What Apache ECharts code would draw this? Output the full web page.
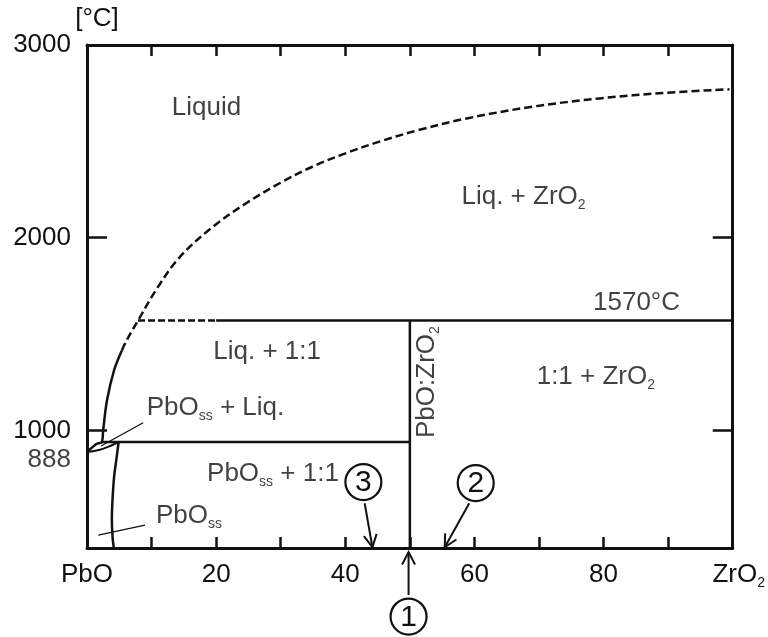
<!DOCTYPE html>
<html>
<head>
<meta charset="utf-8">
<script src="https://cdn.jsdelivr.net/npm/echarts@6/dist/echarts.min.js"></script>
<style>
  html, body { margin: 0; padding: 0; background: #fff; }
  #chart { width: 768px; height: 637px; }
</style>
</head>
<body>
<div id="chart"></div>
<script>
// PbO–ZrO2 phase diagram: composition (mol% ZrO2) against temperature (°C)

// axis ticks and labels
const xTickValues = [0, 20, 40, 60, 80, 100];
const xTickNames = ['PbO', '20', '40', '60', '80', 'ZrO2'];
const yTickValues = [1000, 2000];
const yLabelValues = [1000, 2000, 3000];
const yMin = 390;
const yMax = 3000;

// invariant temperatures and compound composition
const pboMeltingPoint = 888;
const peritecticT = 940;
const compoundMeltT = 1570;
const compoundX = 50;

// phase boundaries [mol% ZrO2, °C]
const liquidusSolid = [[0, 888], [0.8, 912], [1.5, 930], [2.3, 940], [2.5, 1000], [3.1, 1157], [4.2, 1313], [5.4, 1415]];
const liquidusDashed = [[5.4, 1415], [6.1, 1465], [7.9, 1570], [10.8, 1735], [14.4, 1901], [19.5, 2057], [24.7, 2180],
  [29.9, 2284], [35.0, 2370], [40.2, 2440], [45.4, 2500], [51.5, 2560], [58.8, 2619], [69.0, 2680], [79.4, 2723],
  [89.7, 2752], [99.5, 2770]];
const lensSolidus = [[0, 888], [2.0, 900], [3.5, 918], [4.9, 940]];
const pboSolvus = [[4.9, 940], [4.55, 850], [4.2, 760], [3.95, 640], [3.85, 540], [3.95, 450], [4.15, 390]];
const peritecticLine = [[2.3, peritecticT], [compoundX, peritecticT]];
const compoundLineDashed = [[7.9, compoundMeltT], [20, compoundMeltT]];
const compoundLineSolid = [[20, compoundMeltT], [100, compoundMeltT]];
const compoundVertical = [[compoundX, yMin], [compoundX, compoundMeltT]];

// field names, anchored at their centres in data units
const fieldLabels = [
  { at: [18.5, 2673], text: 'Liquid' },
  { at: [67.6, 2211], text: 'Liq. + ZrO{s|2}' },
  { at: [85.1, 1661], text: '1570°C' },
  { at: [27.9, 1407], text: 'Liq. + 1:1' },
  { at: [78.8, 1277], text: '1:1 + ZrO{s|2}' },
  { at: [52.6, 1251], text: 'PbO:ZrO{s|2}', rotate: 90 },
  { at: [19.9, 1116], text: 'PbO{s|ss} + Liq.' },
  { at: [28.8, 774], text: 'PbO{s|ss} + 1:1' },
  { at: [15.8, 556], text: 'PbO{s|ss}' }
];

// leader lines from names to narrow fields
const leaderLines = [
  [[8.7, 1040], [2.17, 919]],
  [[8.98, 509], [1.75, 457]]
];

// numbered compositions: circle centre and arrow [from x, from T, to x, to T]
const numberMarks = [
  { n: '1', circle: [49.8, 34], arrow: [49.8, 146, 49.8, 369] },
  { n: '2', circle: [60.2, 727], arrow: [59.2, 622, 55.4, 394] },
  { n: '3', circle: [42.8, 732], arrow: [43.0, 622, 44.2, 394] }
];

const FONT = '"Liberation Sans", Arial, Helvetica, sans-serif';
const INK = '#111';
const richStyle = {
  m: { fontSize: 26, lineHeight: 30, fontFamily: FONT, color: INK },
  z: { fontSize: 26, lineHeight: 30, fontFamily: FONT, color: INK, padding: [0, 0, 0, 12] },
  s: { fontSize: 14, lineHeight: 14, verticalAlign: 'bottom', fontFamily: FONT, color: INK }
};

// chemical formula digits become subscripts
function formulaText(name) {
  return name === 'ZrO2' ? '{z|ZrO}{s|2}' : name;
}

function lineSeries(data, opts) {
  return Object.assign({
    type: 'line',
    data: data,
    symbol: 'none',
    clip: false,
    silent: true,
    lineStyle: { color: INK, width: 2.5 }
  }, opts || {});
}

const chart = echarts.init(document.getElementById('chart'), null, { renderer: 'canvas' });

const xAxisBase = {
  type: 'value',
  min: 0,
  max: 100,
  interval: 10,
  splitLine: { show: false },
  axisLine: { show: true, onZero: false, lineStyle: { color: INK, width: 3 } },
  axisTick: { show: true, inside: true, length: 11, lineStyle: { color: INK, width: 2.5 } }
};

const yAxisBase = {
  type: 'value',
  min: yMin,
  max: yMax,
  splitLine: { show: false },
  axisLine: { show: true, onZero: false, lineStyle: { color: INK, width: 3 } },
  axisTick: { show: true, inside: true, length: 20, customValues: yTickValues, lineStyle: { color: INK, width: 2.5 } }
};

chart.setOption({
  animation: false,
  backgroundColor: '#fff',
  grid: { left: 87, right: 35, top: 45, bottom: 89, containLabel: false },
  xAxis: [
    Object.assign({}, xAxisBase, {
      position: 'bottom',
      axisLabel: {
        show: true,
        margin: 12,
        fontSize: 26,
        lineHeight: 30,
        fontFamily: FONT,
        color: INK,
        rich: richStyle,
        formatter: v => {
          const i = xTickValues.indexOf(v);
          return i < 0 ? '' : formulaText(xTickNames[i]);
        }
      }
    }),
    Object.assign({}, xAxisBase, { position: 'top', axisLabel: { show: false } })
  ],
  yAxis: [
    Object.assign({}, yAxisBase, {
      position: 'left',
      name: '[°C]',
      nameLocation: 'end',
      nameGap: 8,
      nameTextStyle: { fontSize: 26, fontFamily: FONT, color: INK, align: 'center', verticalAlign: 'bottom', padding: [0, 0, 0, 20] },
      axisLabel: {
        show: true,
        customValues: yLabelValues,
        margin: 16,
        fontSize: 26,
        fontFamily: FONT,
        color: INK,
        formatter: v => String(v)
      }
    }),
    Object.assign({}, yAxisBase, { position: 'right', axisLabel: { show: false } })
  ],
  series: [
    lineSeries(liquidusSolid, { smooth: 0.35 }),
    lineSeries(liquidusDashed, { smooth: 0.35, lineStyle: { color: INK, width: 2.5, type: [8, 4] } }),
    lineSeries(lensSolidus, { smooth: 0.35, lineStyle: { color: INK, width: 2 } }),
    lineSeries(pboSolvus, { smooth: 0.35 }),
    lineSeries(peritecticLine),
    lineSeries(compoundLineDashed, { lineStyle: { color: INK, width: 2.5, type: [7, 3] } }),
    lineSeries(compoundLineSolid),
    lineSeries(compoundVertical),
    // leader lines
    ...leaderLines.map(seg => lineSeries(seg, { lineStyle: { color: INK, width: 1.3 } })),
    // field names and the PbO melting point
    {
      type: 'scatter',
      symbolSize: 0,
      silent: true,
      clip: false,
      data: fieldLabels.map(f => ({
        value: f.at,
        label: { formatter: f.text, rotate: f.rotate || 0 }
      })).concat([{
        value: [0, pboMeltingPoint],
        label: { formatter: String(pboMeltingPoint), position: 'left', distance: 16, offset: [0, 8] }
      }]),
      label: {
        show: true,
        position: 'inside',
        fontSize: 26,
        lineHeight: 30,
        fontFamily: FONT,
        color: INK,
        rich: richStyle
      }
    },
    // numbered arrows
    {
      type: 'custom',
      silent: true,
      clip: false,
      data: numberMarks.map(m => m.arrow),
      renderItem: (params, api) => {
        const p0 = api.coord([api.value(0), api.value(1)]);
        const p1 = api.coord([api.value(2), api.value(3)]);
        const ang = Math.atan2(p1[1] - p0[1], p1[0] - p0[0]);
        const L = 14, a = 0.48;
        const h1 = [p1[0] - L * Math.cos(ang - a), p1[1] - L * Math.sin(ang - a)];
        const h2 = [p1[0] - L * Math.cos(ang + a), p1[1] - L * Math.sin(ang + a)];
        return {
          type: 'group',
          children: [
            { type: 'line', shape: { x1: p0[0], y1: p0[1], x2: p1[0], y2: p1[1] }, style: { stroke: INK, lineWidth: 2 } },
            { type: 'polyline', shape: { points: [h1, p1, h2] }, style: { stroke: INK, lineWidth: 2, fill: null } }
          ]
        };
      }
    },
    // numbered circles
    {
      type: 'custom',
      silent: true,
      clip: false,
      data: numberMarks.map(m => [m.circle[0], m.circle[1]]),
      renderItem: (params, api) => {
        const c = api.coord([api.value(0), api.value(1)]);
        const n = numberMarks[params.dataIndex].n;
        return {
          type: 'group',
          children: [
            { type: 'circle', shape: { cx: c[0], cy: c[1], r: 18 }, style: { stroke: INK, lineWidth: 2.2, fill: '#fff' } },
            { type: 'text', x: c[0], y: c[1] + 1, style: { text: n, fontSize: 30, fontFamily: FONT, fill: INK, align: 'center', verticalAlign: 'middle' } }
          ]
        };
      }
    }
  ]
});
</script>
</body>
</html>
